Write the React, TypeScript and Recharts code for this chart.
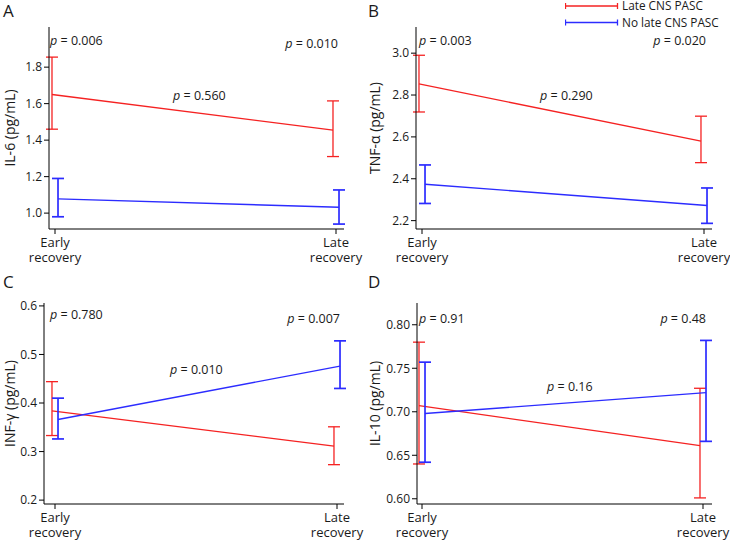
import { LineChart, Line, XAxis, YAxis, ErrorBar } from 'recharts'

const timepoints = ['Early recovery', 'Late recovery']
const groups = ['Late CNS PASC', 'No late CNS PASC']

// IL-6
const il6Pasc = [1.65, 1.455]
const il6PascLo = [1.46, 1.31]
const il6PascHi = [1.855, 1.615]
const il6NoPasc = [1.078, 1.032]
const il6NoPascLo = [0.98, 0.94]
const il6NoPascHi = [1.19, 1.127]
const il6Ticks = [1.0, 1.2, 1.4, 1.6, 1.8]
const il6P = ['0.006', '0.010', '0.560']

// TNF-a
const tnfPasc = [2.853, 2.58]
const tnfPascLo = [2.719, 2.477]
const tnfPascHi = [2.99, 2.699]
const tnfNoPasc = [2.374, 2.272]
const tnfNoPascLo = [2.282, 2.187]
const tnfNoPascHi = [2.466, 2.356]
const tnfTicks = [2.2, 2.4, 2.6, 2.8, 3.0]
const tnfP = ['0.003', '0.020', '0.290']

// INF-y
const infPasc = [0.384, 0.311]
const infPascLo = [0.333, 0.273]
const infPascHi = [0.444, 0.351]
const infNoPasc = [0.366, 0.476]
const infNoPascLo = [0.326, 0.43]
const infNoPascHi = [0.41, 0.528]
const infTicks = [0.2, 0.3, 0.4, 0.5, 0.6]
const infP = ['0.780', '0.007', '0.010']

// IL-10
const il10Pasc = [0.707, 0.661]
const il10PascLo = [0.64, 0.601]
const il10PascHi = [0.78, 0.727]
const il10NoPasc = [0.698, 0.722]
const il10NoPascLo = [0.642, 0.666]
const il10NoPascHi = [0.757, 0.782]
const il10Ticks = [0.6, 0.65, 0.7, 0.75, 0.8]
const il10P = ['0.91', '0.48', '0.16']

const RED = '#f52222'
const BLUE = '#2c2cff'
const INK = '#1a1a1a'
const FONT = '"Open Sans", sans-serif'

function toPoints(mean: number[], lo: number[], hi: number[], shift: number) {
  return mean.map((m, i) => ({
    x: i + 1 + shift,
    y: m,
    err: [m - lo[i], hi[i] - m],
  }))
}

function TimeTick(props: any) {
  const { x, y, payload } = props
  const [a, b] = timepoints[payload.value - 1].split(' ')
  return (
    <g fontSize={13} fill={INK} fontFamily={FONT}>
      <text x={x} y={y + 11} textAnchor="middle">{a}</text>
      <text x={x} y={y + 26} textAnchor="middle">{b}</text>
    </g>
  )
}

function LegendBox() {
  const row = (color: string, label: string, y: number) => (
    <g key={label}>
      <line x1={0} x2={53} y1={y} y2={y} stroke={color} strokeWidth={1.3} />
      <line x1={0.5} x2={0.5} y1={y - 3} y2={y + 3} stroke={color} strokeWidth={1.3} />
      <line x1={52.5} x2={52.5} y1={y - 3} y2={y + 3} stroke={color} strokeWidth={1.3} />
      <text x={57} y={y + 4.3} fontSize={11.8} fill={INK} fontFamily={FONT}>{label}</text>
    </g>
  )
  return (
    <svg width={165} height={30} style={{ position: 'absolute', left: 200, top: 0 }}>
      {row(RED, groups[0], 6)}
      {row(BLUE, groups[1], 22.5)}
    </svg>
  )
}

interface PanelProps {
  left: number
  top: number
  letter: string
  label: string
  yWidth: number
  plotTop: number
  plotBottom: number
  plotRight: number
  xDomain: [number, number]
  yDomain: [number, number]
  ticks: number[]
  digits: number
  red: { x: number; y: number; err: number[] }[]
  blue: { x: number; y: number; err: number[] }[]
  p: string[]
  pPos: { x: number; cy: number; right?: boolean }[]
  legend?: boolean
}

function PValue({ value, x, cy, right }: { value: string; x: number; cy: number; right?: boolean }) {
  return (
    <div
      style={{
        position: 'absolute',
        top: cy - 8.7,
        ...(right ? { right: 365 - x } : { left: x }),
        fontSize: 12.5,
        lineHeight: '16px',
        whiteSpace: 'nowrap',
        color: INK,
        fontFamily: FONT,
      }}
    >
      <i>p</i> = {value}
    </div>
  )
}

function Panel(pr: PanelProps) {
  const axisStyle = { fontSize: 12, fill: INK, fontFamily: FONT }
  return (
    <div style={{ position: 'absolute', left: pr.left, top: pr.top, width: 365, height: 271 }}>
      <LineChart
        width={365}
        height={271}
        margin={{ top: pr.plotTop, right: 365 - pr.plotRight, bottom: 0, left: 0 }}
      >
        <XAxis
          type="number"
          dataKey="x"
          domain={pr.xDomain}
          ticks={[1, 2]}
          allowDataOverflow
          height={271 - pr.plotBottom}
          stroke="#000"
          tickSize={5}
          tickMargin={2}
          tick={<TimeTick />}
        />
        <YAxis
          type="number"
          domain={pr.yDomain}
          ticks={pr.ticks}
          allowDataOverflow
          width={pr.yWidth}
          stroke="#000"
          tickSize={5}
          tickMargin={2}
          tick={axisStyle}
          tickFormatter={(v: number) => v.toFixed(pr.digits)}
          label={{
            value: pr.label,
            angle: -90,
            position: 'insideLeft',
            offset: 10,
            style: { textAnchor: 'middle', fontSize: 14, fill: INK, fontFamily: FONT },
          }}
        />
        <Line
          data={pr.red}
          dataKey="y"
          stroke={RED}
          strokeWidth={1.3}
          dot={false}
          isAnimationActive={false}
        >
          <ErrorBar dataKey="err" direction="y" width={6} stroke={RED} strokeWidth={1.3} isAnimationActive={false} />
        </Line>
        <Line
          data={pr.blue}
          dataKey="y"
          stroke={BLUE}
          strokeWidth={1.4}
          dot={false}
          isAnimationActive={false}
        >
          <ErrorBar dataKey="err" direction="y" width={6} stroke={BLUE} strokeWidth={1.7} isAnimationActive={false} />
        </Line>
      </LineChart>
      {pr.legend && <LegendBox />}
      <div
        style={{
          position: 'absolute',
          left: 3,
          top: 0.5,
          fontSize: 17,
          lineHeight: '20px',
          color: INK,
          fontFamily: FONT,
        }}
      >
        {pr.letter}
      </div>
      {pr.p.map((v, i) => (
        <PValue key={i} value={v} {...pr.pPos[i]} />
      ))}
    </div>
  )
}

export default function App() {
  return (
    <div style={{ position: 'absolute', left: 0, top: 0, width: 730, height: 542, background: '#fff' }}>
      <Panel
        left={0}
        top={0}
        letter="A"
        label="IL-6 (pg/mL)"
        yWidth={49}
        plotTop={27}
        plotBottom={229}
        plotRight={344}
        xDomain={[1 - 6 / 281, 2 + 8 / 281]}
        yDomain={[0.913, 2.02]}
        ticks={il6Ticks}
        digits={1}
        red={toPoints(il6Pasc, il6PascLo, il6PascHi, -0.0107)}
        blue={toPoints(il6NoPasc, il6NoPascLo, il6NoPascHi, 0.0107)}
        p={il6P}
        pPos={[{ x: 50, cy: 42 }, { x: 338, cy: 45, right: true }, { x: 173, cy: 97 }]}
      />
      <Panel
        left={365}
        top={0}
        letter="B"
        label="TNF-α (pg/mL)"
        yWidth={51}
        plotTop={27}
        plotBottom={229}
        plotRight={347}
        xDomain={[1 - 6 / 282, 2 + 8 / 282]}
        yDomain={[2.16, 3.125]}
        ticks={tnfTicks}
        digits={1}
        red={toPoints(tnfPasc, tnfPascLo, tnfPascHi, -0.0107)}
        blue={toPoints(tnfNoPasc, tnfNoPascLo, tnfNoPascHi, 0.0107)}
        p={tnfP}
        pPos={[{ x: 54, cy: 42 }, { x: 341, cy: 42, right: true }, { x: 175, cy: 97 }]}
        legend
      />
      <Panel
        left={0}
        top={271}
        letter="C"
        label="INF-γ (pg/mL)"
        yWidth={44}
        plotTop={32}
        plotBottom={233}
        plotRight={344}
        xDomain={[1 - 11 / 282, 2 + 7 / 282]}
        yDomain={[0.192, 0.606]}
        ticks={infTicks}
        digits={1}
        red={toPoints(infPasc, infPascLo, infPascHi, -0.0107)}
        blue={toPoints(infNoPasc, infNoPascLo, infNoPascHi, 0.0107)}
        p={infP}
        pPos={[{ x: 50, cy: 45 }, { x: 340, cy: 49, right: true }, { x: 170, cy: 100 }]}
      />
      <Panel
        left={365}
        top={271}
        letter="D"
        label="IL-10 (pg/mL)"
        yWidth={52}
        plotTop={32}
        plotBottom={233}
        plotRight={347}
        xDomain={[1 - 5 / 281, 2 + 9 / 281]}
        yDomain={[0.594, 0.825]}
        ticks={il10Ticks}
        digits={2}
        red={toPoints(il10Pasc, il10PascLo, il10PascHi, -0.0107)}
        blue={toPoints(il10NoPasc, il10NoPascLo, il10NoPascHi, 0.0107)}
        p={il10P}
        pPos={[{ x: 54, cy: 49 }, { x: 341, cy: 49, right: true }, { x: 182, cy: 117 }]}
      />
    </div>
  )
}
